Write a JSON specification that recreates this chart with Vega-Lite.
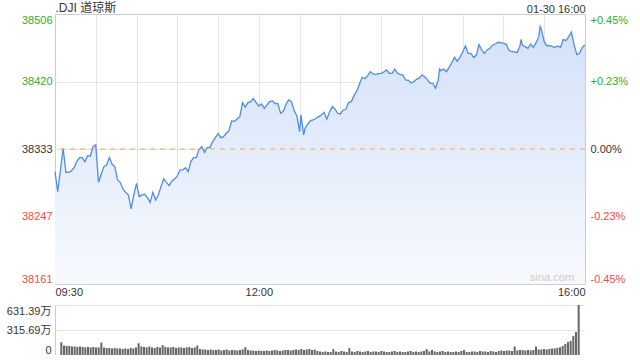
{
  "$schema": "https://vega.github.io/schema/vega-lite/v6.json",
  "padding": 0,
  "spacing": 21,
  "bounds": "flush",
  "config": {
    "font": "'Liberation Sans', 'Noto Sans CJK SC', sans-serif",
    "view": {"stroke": "#cccccc"},
    "axis": {"labelFontSize": 11, "labelColor": "#333333", "ticks": false, "domain": false, "gridColor": "#cccccc", "gridDash": [1, 1], "title": null, "labelOverlap": false}
  },
  "datasets": {
    "price": [
      {"m":0,"p":38304.5},{"m":2,"p":38279},{"m":4,"p":38306.7},{"m":6,"p":38334.4},{"m":8,"p":38303.7},{"m":10,"p":38303.7},{"m":12,"p":38305.4},{"m":14,"p":38309.6},{"m":16,"p":38317.3},{"m":18,"p":38322.4},{"m":20,"p":38322.4},{"m":22,"p":38317.3},{"m":24,"p":38325},{"m":26,"p":38324.5},{"m":28,"p":38336.5},{"m":30,"p":38338.6},{"m":32,"p":38290.9},{"m":34,"p":38301.1},{"m":36,"p":38311},{"m":38,"p":38313},{"m":40,"p":38322.4},{"m":42,"p":38313.9},{"m":44,"p":38311},{"m":46,"p":38293.9},{"m":48,"p":38290.9},{"m":50,"p":38282.4},{"m":52,"p":38278.1},{"m":54,"p":38274.7},{"m":56,"p":38256.8},{"m":58,"p":38274.7},{"m":60,"p":38289.6},{"m":62,"p":38272.6},{"m":64,"p":38274.7},{"m":66,"p":38275.6},{"m":68,"p":38271.3},{"m":70,"p":38265.3},{"m":72,"p":38278.1},{"m":74,"p":38268.3},{"m":76,"p":38274.7},{"m":78,"p":38285.4},{"m":80,"p":38295.2},{"m":82,"p":38290.9},{"m":84,"p":38286.6},{"m":86,"p":38292.6},{"m":88,"p":38295.2},{"m":90,"p":38299},{"m":92,"p":38306.7},{"m":94,"p":38306.7},{"m":96,"p":38309.6},{"m":98,"p":38304.5},{"m":100,"p":38317.3},{"m":102,"p":38322.4},{"m":104,"p":38322.4},{"m":106,"p":38333.1},{"m":108,"p":38336.5},{"m":110,"p":38329.2},{"m":112,"p":38335.2},{"m":114,"p":38335.2},{"m":116,"p":38342.9},{"m":118,"p":38348},{"m":120,"p":38353.1},{"m":122,"p":38348},{"m":124,"p":38349.2},{"m":126,"p":38353.5},{"m":128,"p":38356.9},{"m":130,"p":38369.3},{"m":132,"p":38368.8},{"m":134,"p":38371.8},{"m":136,"p":38374.8},{"m":138,"p":38392.7},{"m":140,"p":38386.7},{"m":142,"p":38392.7},{"m":144,"p":38394},{"m":146,"p":38397.8},{"m":148,"p":38392.7},{"m":150,"p":38388.4},{"m":152,"p":38391},{"m":154,"p":38385.4},{"m":156,"p":38389.7},{"m":158,"p":38394},{"m":160,"p":38394.8},{"m":162,"p":38391.4},{"m":164,"p":38391.4},{"m":166,"p":38379.1},{"m":168,"p":38381.6},{"m":170,"p":38390.6},{"m":172,"p":38396.1},{"m":174,"p":38394},{"m":176,"p":38382.5},{"m":178,"p":38375.7},{"m":180,"p":38355.6},{"m":181,"p":38377},{"m":182,"p":38364},{"m":183,"p":38351.4},{"m":184,"p":38359.9},{"m":186,"p":38365.4},{"m":188,"p":38369.7},{"m":190,"p":38370.5},{"m":192,"p":38372.7},{"m":194,"p":38374.8},{"m":196,"p":38376.9},{"m":198,"p":38380.3},{"m":200,"p":38371.4},{"m":202,"p":38380.3},{"m":204,"p":38387.6},{"m":206,"p":38384.6},{"m":208,"p":38379.1},{"m":210,"p":38378.2},{"m":212,"p":38383.3},{"m":214,"p":38384.2},{"m":216,"p":38392.7},{"m":218,"p":38394},{"m":220,"p":38401.6},{"m":222,"p":38407.2},{"m":224,"p":38416.1},{"m":226,"p":38425.1},{"m":228,"p":38423.4},{"m":230,"p":38426.8},{"m":232,"p":38432.3},{"m":234,"p":38429.3},{"m":236,"p":38428.5},{"m":238,"p":38429.8},{"m":240,"p":38430.2},{"m":242,"p":38431.9},{"m":244,"p":38434.4},{"m":246,"p":38430.2},{"m":248,"p":38430.2},{"m":250,"p":38435.5},{"m":252,"p":38430.2},{"m":254,"p":38428.9},{"m":256,"p":38428},{"m":258,"p":38421.6},{"m":260,"p":38421.2},{"m":262,"p":38417.8},{"m":264,"p":38419.5},{"m":266,"p":38422.5},{"m":268,"p":38424.2},{"m":270,"p":38428},{"m":272,"p":38425.9},{"m":274,"p":38422.1},{"m":276,"p":38417.4},{"m":278,"p":38417.4},{"m":280,"p":38411},{"m":282,"p":38421.6},{"m":283,"p":38435.7},{"m":284,"p":38433.6},{"m":286,"p":38435.7},{"m":288,"p":38432.3},{"m":290,"p":38437.8},{"m":292,"p":38443.8},{"m":294,"p":38450.6},{"m":296,"p":38445.5},{"m":298,"p":38450.6},{"m":300,"p":38457.8},{"m":302,"p":38465.1},{"m":304,"p":38455.7},{"m":306,"p":38455.7},{"m":308,"p":38450.6},{"m":310,"p":38453.1},{"m":312,"p":38466.8},{"m":314,"p":38460},{"m":316,"p":38455.7},{"m":318,"p":38460},{"m":320,"p":38462.1},{"m":322,"p":38466.4},{"m":324,"p":38467.6},{"m":326,"p":38469.8},{"m":328,"p":38469.3},{"m":330,"p":38468.5},{"m":332,"p":38467.6},{"m":334,"p":38460},{"m":336,"p":38457.8},{"m":338,"p":38457.8},{"m":340,"p":38456.6},{"m":342,"p":38464.2},{"m":343,"p":38473.6},{"m":344,"p":38465.9},{"m":346,"p":38464.2},{"m":348,"p":38462.1},{"m":350,"p":38467.6},{"m":352,"p":38463.4},{"m":354,"p":38469.3},{"m":356,"p":38477},{"m":357,"p":38489.8},{"m":358,"p":38485.5},{"m":360,"p":38470.6},{"m":362,"p":38465.1},{"m":364,"p":38465.9},{"m":366,"p":38464.2},{"m":368,"p":38463.4},{"m":370,"p":38465.1},{"m":372,"p":38463.4},{"m":374,"p":38473.6},{"m":376,"p":38471.9},{"m":378,"p":38477},{"m":380,"p":38483},{"m":382,"p":38466.4},{"m":384,"p":38454},{"m":386,"p":38455.7},{"m":388,"p":38463.4},{"m":390,"p":38466.4}
    ],
    "vol": [
      {"m":1,"v":162},{"m":3,"v":121},{"m":5,"v":115},{"m":7,"v":115},{"m":9,"v":108},{"m":11,"v":108},{"m":13,"v":102},{"m":15,"v":108},{"m":17,"v":102},{"m":19,"v":96},{"m":21,"v":102},{"m":23,"v":96},{"m":25,"v":102},{"m":27,"v":96},{"m":29,"v":96},{"m":31,"v":157},
      {"m":33,"v":96},{"m":35,"v":89},{"m":37,"v":89},{"m":39,"v":83},{"m":41,"v":89},{"m":43,"v":83},{"m":45,"v":83},{"m":47,"v":77},{"m":49,"v":83},{"m":51,"v":77},{"m":53,"v":89},{"m":55,"v":83},{"m":57,"v":96},
      {"m":59,"v":149},
      {"m":61,"v":108},{"m":63,"v":102},{"m":65,"v":96},{"m":67,"v":108},{"m":69,"v":96},{"m":71,"v":89},{"m":73,"v":102},{"m":75,"v":96},
      {"m":77,"v":124},
      {"m":79,"v":102},{"m":81,"v":96},{"m":83,"v":96},{"m":85,"v":102},{"m":87,"v":89},{"m":89,"v":96},{"m":91,"v":96},{"m":93,"v":89},{"m":95,"v":96},{"m":97,"v":102},{"m":99,"v":89},{"m":101,"v":96},
      {"m":103,"v":119},
      {"m":105,"v":77},{"m":107,"v":70},{"m":109,"v":70},{"m":111,"v":64},{"m":113,"v":70},{"m":115,"v":64},{"m":117,"v":64},{"m":119,"v":70},{"m":121,"v":57},{"m":123,"v":64},{"m":125,"v":70},{"m":127,"v":57},{"m":129,"v":64},{"m":131,"v":64},{"m":133,"v":57},{"m":135,"v":64},{"m":137,"v":70},
      {"m":139,"v":98},
      {"m":141,"v":64},{"m":143,"v":57},{"m":145,"v":57},{"m":147,"v":51},{"m":149,"v":57},{"m":151,"v":51},{"m":153,"v":51},{"m":155,"v":57},{"m":157,"v":51},{"m":159,"v":57},{"m":161,"v":64},{"m":163,"v":57},{"m":165,"v":51},{"m":167,"v":57},{"m":169,"v":64},{"m":171,"v":64},{"m":173,"v":57},{"m":175,"v":64},{"m":177,"v":70},{"m":179,"v":64},{"m":181,"v":77},{"m":183,"v":64},{"m":185,"v":70},{"m":187,"v":77},{"m":189,"v":64},{"m":191,"v":70},
      {"m":193,"v":51},{"m":195,"v":45},{"m":197,"v":38},{"m":199,"v":45},{"m":201,"v":38},{"m":203,"v":38},
      {"m":205,"v":74},
      {"m":207,"v":45},{"m":209,"v":38},{"m":211,"v":51},{"m":213,"v":45},{"m":215,"v":38},
      {"m":217,"v":87},
      {"m":219,"v":45},{"m":221,"v":38},{"m":223,"v":51},{"m":225,"v":45},{"m":227,"v":38},{"m":229,"v":45},{"m":231,"v":51},{"m":233,"v":38},{"m":235,"v":45},{"m":237,"v":45},{"m":239,"v":38},{"m":241,"v":51},{"m":243,"v":45},{"m":245,"v":38},{"m":247,"v":38},{"m":249,"v":45},{"m":251,"v":51},{"m":253,"v":38},{"m":255,"v":45},{"m":257,"v":38},{"m":259,"v":38},{"m":261,"v":45},{"m":263,"v":51},{"m":265,"v":38},{"m":267,"v":45},{"m":269,"v":38},{"m":271,"v":45},{"m":273,"v":51},
      {"m":275,"v":74},
      {"m":277,"v":45},{"m":279,"v":64},{"m":281,"v":45},{"m":283,"v":38},{"m":285,"v":45},{"m":287,"v":51},{"m":289,"v":38},{"m":291,"v":45},{"m":293,"v":38},{"m":295,"v":38},{"m":297,"v":45},{"m":299,"v":38},{"m":301,"v":51},
      {"m":303,"v":64},
      {"m":305,"v":38},{"m":307,"v":38},{"m":309,"v":45},{"m":311,"v":45},{"m":313,"v":38},{"m":315,"v":51},{"m":317,"v":45},{"m":319,"v":45},{"m":321,"v":38},{"m":323,"v":51},{"m":325,"v":45},{"m":327,"v":38},{"m":329,"v":51},{"m":331,"v":57},{"m":333,"v":51},{"m":335,"v":57},{"m":337,"v":57},{"m":339,"v":51},
      {"m":341,"v":108},
      {"m":343,"v":57},{"m":345,"v":64},{"m":347,"v":64},{"m":349,"v":57},{"m":351,"v":64},{"m":353,"v":57},{"m":355,"v":64},
      {"m":357,"v":108},
      {"m":359,"v":70},{"m":361,"v":70},{"m":363,"v":77},{"m":365,"v":70},{"m":367,"v":77},{"m":369,"v":83},{"m":371,"v":83},{"m":373,"v":89},
      {"m":375,"v":99},{"m":377,"v":115},{"m":379,"v":140},{"m":381,"v":163},{"m":383,"v":179},{"m":385,"v":242},{"m":387,"v":291},{"m":389,"v":631.39}
    ]
  },
  "vconcat": [
    {
      "width": 530,
      "height": 270,
      "layer": [
        {
          "data": {"name": "price"},
          "mark": {"type": "area", "color": {"gradient": "linear", "x1": 0, "y1": 0, "x2": 0, "y2": 1, "stops": [{"offset": 0, "color": "#d3e1f8"}, {"offset": 1, "color": "#f7f9fe"}]}},
          "encoding": {
            "x": {"field": "m", "type": "quantitative", "scale": {"domain": [0, 390], "nice": false, "zero": false},
              "axis": {"orient": "bottom", "values": [0, 30, 60, 90, 120, 150, 180, 210, 240, 270, 300, 330, 360, 390], "labelExpr": "datum.value == 0 ? '09:30' : datum.value == 150 ? '12:00' : datum.value == 390 ? '16:00' : ''", "labelFlush": true, "labelPadding": 2, "grid": true}},
            "y": {"field": "p", "type": "quantitative", "scale": {"domain": [38160.95, 38505.95], "nice": false, "zero": false},
              "axis": {"orient": "left", "values": [38160.95, 38247.2, 38333.45, 38419.7, 38505.95], "format": ".0f", "labelFlush": true, "grid": true, "minExtent": 54, "maxExtent": 54, "labelPadding": 3,
                "labelColor": {"condition": [{"test": "datum.value > 38340", "value": "#2eab2e"}, {"test": "datum.value < 38330", "value": "#f24a45"}], "value": "#333333"}}},
            "y2": {"datum": 38160.95}
          }
        },
        {
          "data": {"name": "price"},
          "mark": {"type": "line", "color": "#4f8be8", "strokeWidth": 1.3},
          "encoding": {
            "x": {"field": "m", "type": "quantitative",
              "axis": {"orient": "top", "values": [0, 390], "labelExpr": "datum.value == 0 ? '.DJI 道琼斯' : '01-30 16:00'", "labelFlush": true, "grid": false, "labelPadding": 0, "minExtent": 12, "maxExtent": 12,
                "labelFontSize": {"condition": {"test": "datum.value == 0", "value": 12}, "value": 11}}},
            "y": {"field": "p", "type": "quantitative",
              "axis": {"orient": "right", "values": [38160.95, 38247.2, 38333.45, 38419.7, 38505.95], "labelExpr": "datum.value > 38500 ? '+0.45%' : datum.value > 38400 ? '+0.23%' : datum.value > 38300 ? '0.00%' : datum.value > 38200 ? '-0.23%' : '-0.45%'", "labelFlush": true, "grid": false, "labelPadding": 5,
                "labelColor": {"condition": [{"test": "datum.value > 38340", "value": "#2eab2e"}, {"test": "datum.value < 38330", "value": "#f24a45"}], "value": "#333333"}}}
          }
        },
        {
          "data": {"values": [{"prev": 38333.45}]},
          "mark": {"type": "rule", "color": "#f0a070", "strokeDash": [5, 5], "strokeWidth": 1},
          "encoding": {"y": {"field": "prev", "type": "quantitative", "axis": null}}
        },
        {
          "data": {"values": [{"t": "sina.com"}]},
          "mark": {"type": "text", "align": "right", "baseline": "middle", "color": "#cccccc", "fontSize": 11},
          "encoding": {
            "x": {"datum": 382, "type": "quantitative", "axis": null},
            "y": {"datum": 38168.7, "type": "quantitative", "axis": null},
            "text": {"field": "t"}
          }
        }
      ],
      "resolve": {"axis": {"x": "independent", "y": "independent"}}
    },
    {
      "width": 530,
      "height": 50,
      "view": {"stroke": null},
      "data": {"name": "vol"},
      "mark": {"type": "bar", "color": "#666666", "size": 2},
      "encoding": {
        "x": {"field": "m", "type": "quantitative", "scale": {"domain": [0, 390], "nice": false, "zero": false}, "axis": null},
        "y": {"field": "v", "type": "quantitative", "scale": {"domain": [0, 631.39], "nice": false},
          "axis": {"values": [0, 315.69, 631.39], "labelExpr": "datum.value == 0 ? '0' : format(datum.value, '.2f') + '万'", "labelFlush": true, "grid": true, "gridOpacity": {"condition": {"test": "datum.value == 0", "value": 0}, "value": 1}, "domain": true, "domainColor": "#cccccc", "minExtent": 54, "maxExtent": 54, "labelPadding": 4}}
      }
    }
  ]
}
